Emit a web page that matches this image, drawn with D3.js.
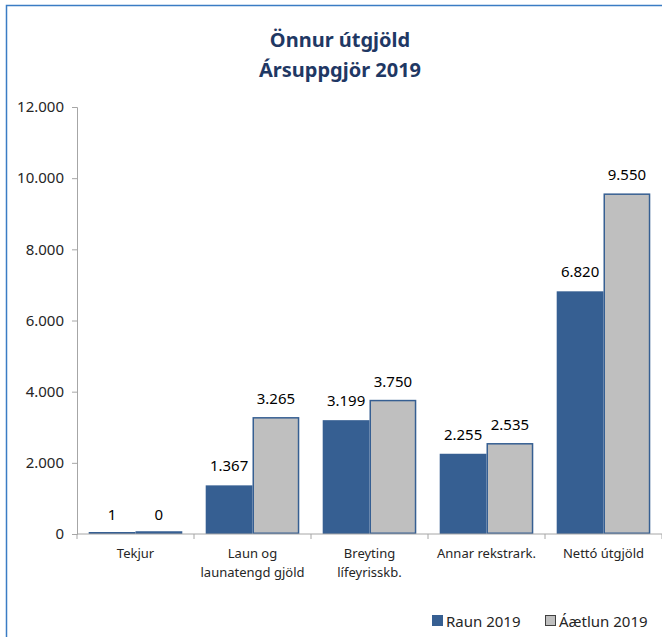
<!DOCTYPE html>
<html>
<head>
<meta charset="utf-8">
<script src="https://cdn.jsdelivr.net/npm/d3@7"></script>
<style>
  body { margin: 0; background: #fff; }
  text { font-family: "Noto Sans", "Open Sans", sans-serif; }
</style>
</head>
<body>
<script>
// chart data
var categories = [["Tekjur"], ["Laun og", "launatengd gjöld"], ["Breyting", "lífeyrisskb."], ["Annar rekstrark."], ["Nettó útgjöld"]];
var seriesNames = ["Raun 2019", "Áætlun 2019"];
var raun = [1, 1367, 3199, 2255, 6820];
var aaetlun = [0, 3265, 3750, 2535, 9550];
var yTicks = [0, 2000, 4000, 6000, 8000, 10000, 12000];

var W = 662, H = 637;
var blue = "#365f92", grey = "#bfbfbf", axisCol = "#a6a6a6";

var svg = d3.select("body").append("svg")
  .attr("width", W)
  .attr("height", H);

svg.append("rect").attr("width", W).attr("height", H).attr("fill", "#fff");

// frame
svg.append("rect")
  .attr("x", 6.5).attr("y", 5.5)
  .attr("width", W + 10).attr("height", H + 10)
  .attr("fill", "none")
  .attr("stroke", "#3a7cc4")
  .attr("stroke-width", 1.5);

// title
var title = svg.append("text")
  .attr("text-anchor", "middle")
  .attr("fill", "#1f3864")
  .style("font-weight", "bold")
  .style("font-size", "20px");
title.append("tspan").attr("x", 340).attr("y", 47).text("Önnur útgjöld");
title.append("tspan").attr("x", 340).attr("y", 77).text("Ársuppgjör 2019");

var plot = { left: 77, right: 662, top: 107, bottom: 534 };

var x0 = d3.scaleBand()
  .domain(d3.range(categories.length))
  .range([plot.left, plot.right])
  .paddingInner(0.2)
  .paddingOuter(0.1);

var x1 = d3.scaleBand()
  .domain([0, 1])
  .range([0, x0.bandwidth()]);

var y = d3.scaleLinear()
  .domain([0, 12000])
  .range([plot.bottom, plot.top]);

var fmt = function(v) { return d3.format(",")(v).replace(/,/g, "."); };

// y axis
var yAxis = svg.append("g")
  .attr("transform", "translate(" + plot.left + ",0)")
  .call(d3.axisLeft(y).tickValues(yTicks).tickSize(5).tickPadding(8).tickFormat(fmt));
yAxis.select(".domain").attr("stroke", axisCol);
yAxis.selectAll(".tick line").attr("stroke", axisCol);
yAxis.selectAll(".tick text")
  .attr("fill", "#262626")
  .style("font-size", "15px")
  .style("font-family", "'Noto Sans', sans-serif");

// bars
var groups = svg.selectAll(".grp")
  .data(categories)
  .enter().append("g")
  .attr("class", "grp")
  .attr("transform", function(d, i) { return "translate(" + x0(i) + ",0)"; });

groups.each(function(d, i) {
  var g = d3.select(this);
  var vals = [raun[i], aaetlun[i]];
  vals.forEach(function(v, s) {
    var h = Math.max(plot.bottom - y(v), 2);
    g.append("rect")
      .attr("x", x1(s) + (s == 1 ? 0.75 : 0))
      .attr("y", plot.bottom - h)
      .attr("width", x1.bandwidth() - (s == 1 ? 1.5 : 0))
      .attr("height", h - (s == 1 ? 0.75 : 0))
      .attr("fill", s == 0 ? blue : grey)
      .attr("stroke", s == 1 ? blue : "none")
      .attr("stroke-width", 1.5);
    g.append("text")
      .attr("x", x1(s) + x1.bandwidth() / 2)
      .attr("y", y(v) - 14)
      .attr("text-anchor", "middle")
      .attr("fill", "#000")
      .style("font-size", "15px")
      .text(fmt(v));
  });
});

// x axis
var xAxis = svg.append("g")
  .attr("transform", "translate(0," + plot.bottom + ")");
xAxis.append("line")
  .attr("x1", plot.left).attr("x2", plot.right)
  .attr("stroke", axisCol);
var step = x0.step();
d3.range(categories.length + 1).forEach(function(i) {
  var tx = x0(0) - x0.step() * x0.paddingInner() / 2 + i * step;
  xAxis.append("line")
    .attr("x1", tx).attr("x2", tx)
    .attr("y1", 0).attr("y2", 5)
    .attr("stroke", axisCol);
});

categories.forEach(function(lines, i) {
  var t = svg.append("text")
    .attr("text-anchor", "middle")
    .attr("fill", "#262626")
    .style("font-size", "13px");
  lines.forEach(function(l, k) {
    t.append("tspan")
      .attr("x", x0(i) + x0.bandwidth() / 2)
      .attr("y", 558 + k * 19)
      .text(l);
  });
});

// legend
var legendX = [432, 545];
seriesNames.forEach(function(name, s) {
  svg.append("rect")
    .attr("x", legendX[s] + 0.5).attr("y", 615.5)
    .attr("width", 10).attr("height", 10)
    .attr("fill", s == 0 ? blue : grey)
    .attr("stroke", s == 0 ? blue : "#404040")
    .attr("stroke-width", 1);
  svg.append("text")
    .attr("x", legendX[s] + 14)
    .attr("y", 627)
    .attr("fill", "#262626")
    .style("font-size", "15px")
    .text(name);
});
</script>
</body>
</html>
